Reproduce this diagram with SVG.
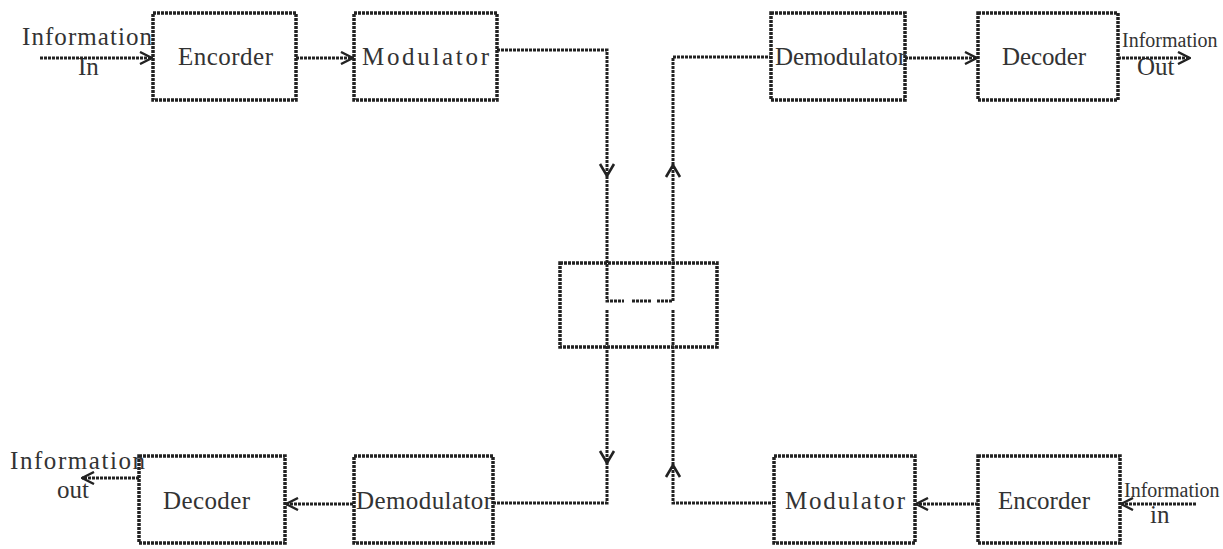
<svg xmlns="http://www.w3.org/2000/svg" width="1223" height="549" viewBox="0 0 1223 549">
  <style>
    .box { fill: #ffffff; stroke: #222222; stroke-width: 3.5; stroke-dasharray: 3 1; }
    .wire { fill: none; stroke: #222222; stroke-width: 3; stroke-dasharray: 3 1; }
    .head { fill: none; stroke: #222222; stroke-width: 2.6; }
    .lbl { font-family: "Liberation Serif", "Times New Roman", serif; font-size: 25px; fill: #333333; }
    .edge { font-size: 20px; }
  </style>
  <defs>
    <marker id="arr" viewBox="0 0 14 14" refX="13" refY="7" markerWidth="14" markerHeight="14" markerUnits="userSpaceOnUse" orient="auto">
      <path d="M1,1 L13,7 L1,13" fill="none" stroke="#222222" stroke-width="2.4"/>
    </marker>
  </defs>

  <!-- transmit chain, top -->
  <g id="encoder-top">
    <rect class="box" x="153" y="13" width="143" height="87"/>
    <text class="lbl" x="178" y="65" textLength="95" lengthAdjust="spacing">Encorder</text>
  </g>
  <g id="modulator-top">
    <rect class="box" x="354" y="13" width="143" height="87"/>
    <text class="lbl" x="362" y="65" textLength="127" lengthAdjust="spacing">Modulator</text>
  </g>
  <g id="demodulator-top">
    <rect class="box" x="771" y="13" width="134" height="87"/>
    <text class="lbl" x="775" y="65" textLength="131" lengthAdjust="spacing">Demodulator</text>
  </g>
  <g id="decoder-top">
    <rect class="box" x="978" y="13" width="140" height="87"/>
    <text class="lbl" x="1002" y="65" textLength="84" lengthAdjust="spacing">Decoder</text>
  </g>

  <!-- channel -->
  <g id="channel">
    <rect class="box" x="560" y="263" width="157" height="84"/>
  </g>

  <!-- return chain, bottom -->
  <g id="decoder-bottom">
    <rect class="box" x="139" y="456" width="146" height="87"/>
    <text class="lbl" x="163" y="509" textLength="87" lengthAdjust="spacing">Decoder</text>
  </g>
  <g id="demodulator-bottom">
    <rect class="box" x="354" y="456" width="139" height="87"/>
    <text class="lbl" x="356" y="509" textLength="136" lengthAdjust="spacing">Demodulator</text>
  </g>
  <g id="modulator-bottom">
    <rect class="box" x="774" y="456" width="141" height="87"/>
    <text class="lbl" x="785" y="509" textLength="120" lengthAdjust="spacing">Modulator</text>
  </g>
  <g id="encoder-bottom">
    <rect class="box" x="978" y="456" width="142" height="87"/>
    <text class="lbl" x="998" y="509" textLength="92" lengthAdjust="spacing">Encorder</text>
  </g>

  <!-- source / sink labels -->
  <g id="labels">
    <text class="lbl" x="22" y="45" textLength="130" lengthAdjust="spacing">Information</text>
    <text class="lbl" x="78" y="75">In</text>
    <text class="lbl edge" x="1122" y="47">Information</text>
    <text class="lbl" x="1137" y="75">Out</text>
    <text class="lbl" x="10" y="469" textLength="135" lengthAdjust="spacing">Information</text>
    <text class="lbl" x="57" y="498">out</text>
    <text class="lbl edge" x="1124" y="497">Information</text>
    <text class="lbl" x="1150" y="523">in</text>
  </g>

  <g id="connectors">
    <!-- top row -->
    <line class="wire" x1="40" y1="58" x2="152" y2="58" marker-end="url(#arr)"/>
    <line class="wire" x1="296" y1="58" x2="353" y2="58" marker-end="url(#arr)"/>
    <polyline class="wire" points="497,50 607,50 607,301 624,301"/>
    <line class="wire" x1="632" y1="301" x2="652" y2="301"/>
    <polyline class="wire" points="657,301 673,301 673,57 770,57"/>
    <line class="wire" x1="905" y1="58" x2="977" y2="58" marker-end="url(#arr)"/>
    <line class="wire" x1="1118" y1="58" x2="1190" y2="58" marker-end="url(#arr)"/>
    <path class="head" d="M600,164 L607,176 L614,164"/>
    <path class="head" d="M666,177 L673,165 L680,177"/>

    <!-- bottom row -->
    <polyline class="wire" points="607,310 607,503 493,503"/>
    <polyline class="wire" points="673,310 673,503 773,503"/>
    <line class="wire" x1="978" y1="504" x2="916" y2="504" marker-end="url(#arr)"/>
    <line class="wire" x1="1196" y1="504" x2="1121" y2="504" marker-end="url(#arr)"/>
    <line class="wire" x1="353" y1="504" x2="286" y2="504" marker-end="url(#arr)"/>
    <line class="wire" x1="139" y1="478" x2="82" y2="478" marker-end="url(#arr)"/>
    <path class="head" d="M600,451 L607,463 L614,451"/>
    <path class="head" d="M666,477 L673,465 L680,477"/>
  </g>
</svg>
